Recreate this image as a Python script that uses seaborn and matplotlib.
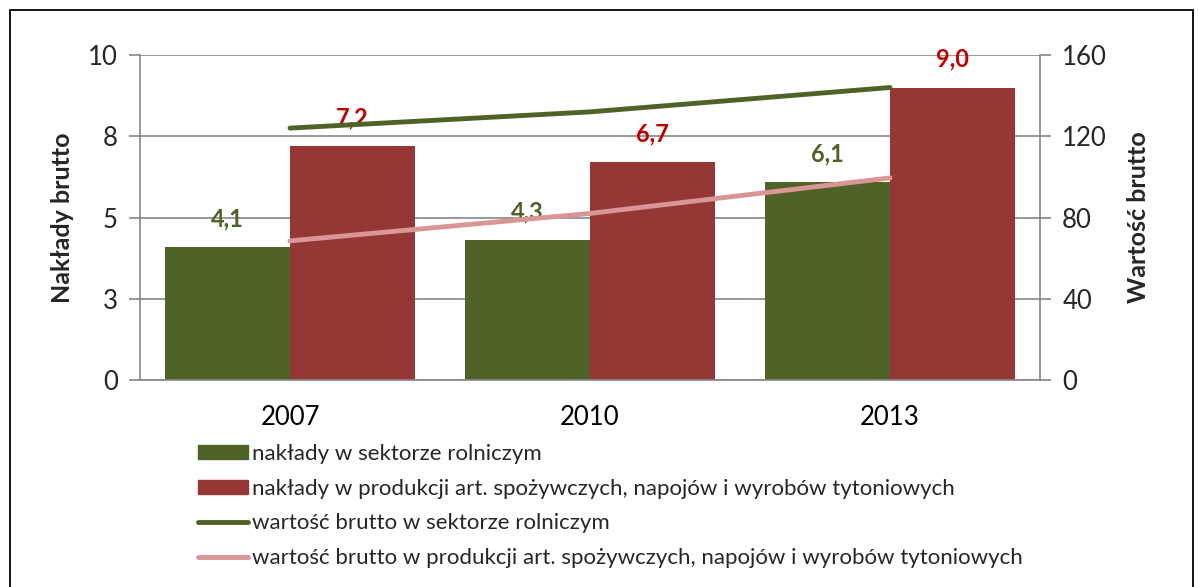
import matplotlib
matplotlib.use("Agg")
import matplotlib.pyplot as plt
import matplotlib.patches as mpatches
import matplotlib.lines as mlines
import seaborn as sns
import pandas as pd
import numpy as np

years = ["2007", "2010", "2013"]
naklady_rol = [4.1, 4.3, 6.1]
naklady_spoz = [7.2, 6.7, 9.0]
wartosc_rol = [124.0, 132.0, 144.0]
wartosc_spoz = [68.5, 82.0, 99.5]

lab_nr = "nakłady w sektorze rolniczym"
lab_ns = "nakłady w produkcji art. spożywczych, napojów i wyrobów tytoniowych"
lab_wr = "wartość brutto w sektorze rolniczym"
lab_ws = "wartość brutto w produkcji art. spożywczych, napojów i wyrobów tytoniowych"

left_ticks = [0, 2.5, 5, 7.5, 10]
left_ticklabels = ["0", "3", "5", "8", "10"]
right_ticks = [0, 40, 80, 120, 160]

c_green = "#4F6228"
c_red = "#953735"
c_pink = "#D99694"
c_lab_green = "#4F6228"
c_lab_red = "#C00000"
grid_c = "#868686"

sns.set_theme(style="white")
plt.rcParams["font.family"] = ["Lato", "DejaVu Sans"]

fig = plt.figure(figsize=(11.98, 5.87), dpi=100)
ax = fig.add_axes([140/1198, 1-380/587, 900/1198, 325/587])

bars = pd.DataFrame({
    "year": years * 2,
    "val": naklady_rol + naklady_spoz,
    "series": [lab_nr] * 3 + [lab_ns] * 3,
})
sns.barplot(data=bars, x="year", y="val", hue="series", order=years,
            hue_order=[lab_nr, lab_ns], palette=[c_green, c_red],
            width=0.834, saturation=1, ax=ax, legend=False, zorder=2,
            linewidth=0)

ax.set_xlim(-0.5, 2.5)
ax.set_ylim(0, 10)
ax.set_yticks(left_ticks)
ax.set_yticklabels(left_ticklabels)
ax.yaxis.grid(True, color=grid_c, lw=1.2, zorder=0)
ax.set_axisbelow(True)

# label bars
for cont, col in zip(ax.containers, [c_lab_green, c_lab_red]):
    labels = [f"{v:.1f}".replace(".", ",") for v in cont.datavalues]
    ax.bar_label(cont, labels=labels, padding=12, color=col,
                 fontsize=17, fontweight="bold")

ax.set_xlabel("")
ax.set_ylabel("Nakłady brutto", fontsize=18, fontweight="bold", labelpad=10)

# category ticks
ax.set_xticks([-0.5, 0.5, 1.5, 2.5])
ax.set_xticklabels([])
ax.set_xticks([0, 1, 2], minor=True)
ax.set_xticklabels(years, minor=True)
ax.tick_params(axis="x", which="major", length=8, color=grid_c, width=1.2, direction="out")
ax.tick_params(axis="x", which="minor", length=0, labelsize=18.5, pad=18, colors="black")
ax.tick_params(axis="y", length=8, color=grid_c, width=1.2, direction="out",
               labelsize=18.5, pad=8)

for s in ["top", "right"]:
    ax.spines[s].set_visible(False)
for s in ["left", "bottom"]:
    ax.spines[s].set_color(grid_c)
    ax.spines[s].set_linewidth(1.2)

ax2 = ax.twinx()
lines = pd.DataFrame({
    "x": list(range(3)) * 2,
    "val": wartosc_rol + wartosc_spoz,
    "series": [lab_wr] * 3 + [lab_ws] * 3,
})
sns.lineplot(data=lines, x="x", y="val", hue="series", hue_order=[lab_wr, lab_ws],
             palette=[c_green, c_pink], lw=3.5, ax=ax2, legend=False, zorder=3)
ax2.set_xlim(-0.5, 2.5)
ax2.set_ylim(0, 160)
ax2.set_yticks(right_ticks)
ax2.set_ylabel("Wartość brutto", fontsize=18, fontweight="bold", labelpad=14)
ax2.set_xlabel("")
ax2.tick_params(axis="y", length=8, color=grid_c, width=1.2, direction="out",
                labelsize=18.5, pad=8)
for s in ["top", "left", "bottom"]:
    ax2.spines[s].set_visible(False)
ax2.spines["right"].set_color(grid_c)
ax2.spines["right"].set_linewidth(1.2)
for l in ax2.lines:
    l.set_solid_capstyle("round")

handles = [
    mpatches.Patch(color=c_green, label=lab_nr),
    mpatches.Patch(color=c_red, label=lab_ns),
    mlines.Line2D([], [], color=c_green, lw=3.5, label=lab_wr, solid_capstyle="round"),
    mlines.Line2D([], [], color=c_pink, lw=3.5, label=lab_ws, solid_capstyle="round"),
]
fig.legend(handles=handles, loc="upper left", bbox_to_anchor=(198/1198, 1-444/587),
           frameon=False, fontsize=16, handlelength=2.25, handleheight=0.6,
           handletextpad=0.2, labelspacing=0.66, borderpad=0, borderaxespad=0)

fig.patches.append(mpatches.Rectangle((10/1198, -0.1), 1183/1198, 1.1 - 10/587,
                                      transform=fig.transFigure, fill=False,
                                      edgecolor="black", lw=1.3))

fig.savefig("out.png", dpi=100)
